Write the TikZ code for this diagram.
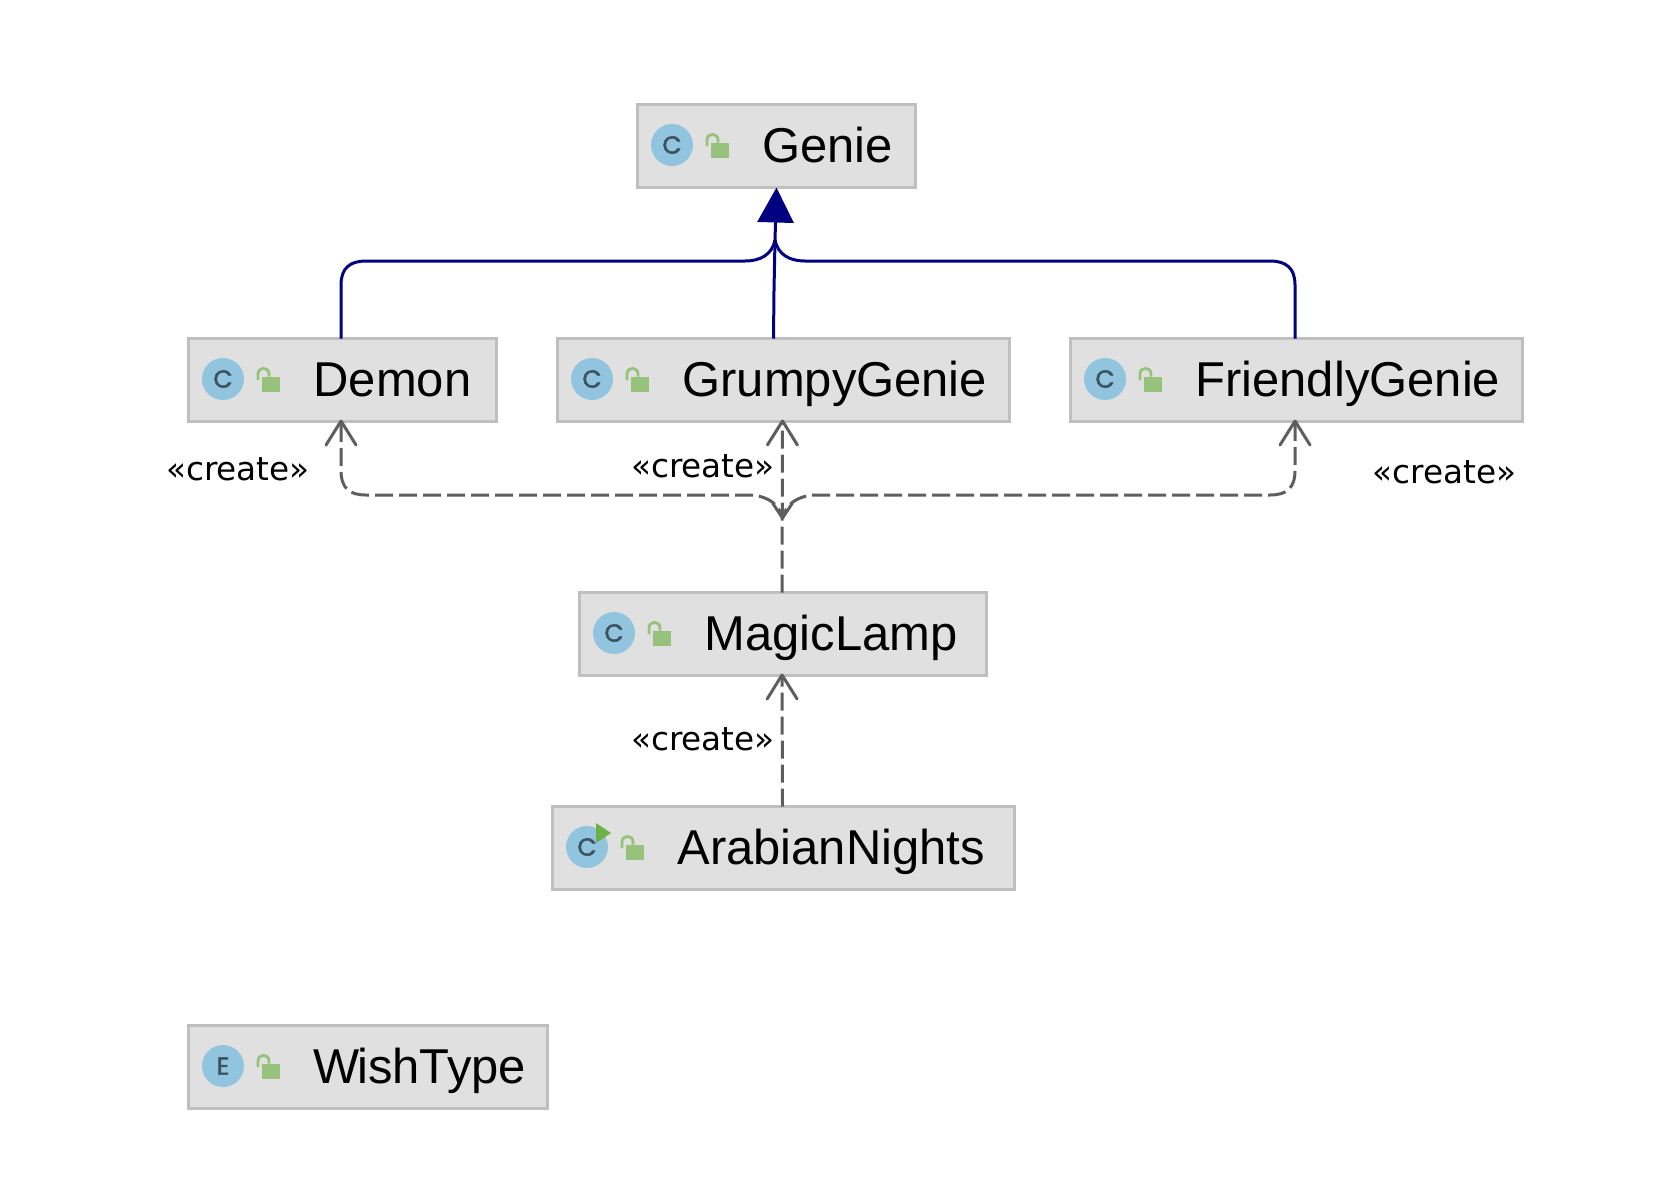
\documentclass[tikz,border=0pt]{standalone}
\usepackage{fontspec}
\usetikzlibrary{arrows.meta}
\setmainfont{Liberation Sans}
\newfontfamily\createfont{DejaVu Sans}
\newfontfamily\iconfont[FakeBold=2]{Poppins}
\definecolor{boxfill}{HTML}{E0E0E0}
\definecolor{boxline}{HTML}{BFBFBF}
\definecolor{iconblue}{HTML}{90C4DF}
\definecolor{iconink}{HTML}{3F5260}
\definecolor{lockgreen}{HTML}{97C27C}
\definecolor{playgreen}{HTML}{6EB043}
\definecolor{navyline}{HTML}{000080}
\definecolor{depgray}{HTML}{5E5E5E}
\tikzset{
  umlbox/.style={draw=boxline,fill=boxfill,line width=2.25pt,inner sep=0pt,outer sep=0pt,
    minimum height=62.25pt,anchor=north west,text=black,
    font=\fontsize{36.7}{40}\selectfont},
  iconletter/.style={text=iconink,inner sep=0pt,font=\iconfont\fontsize{18.5}{20}\selectfont},
  inherit/.style={draw=navyline,line width=2.25pt},
  dep/.style={draw=depgray,line width=2.25pt,dash pattern=on 13.5pt off 4.5pt,line join=round},
  deptip/.style={shorten >=-1.5pt,-{Straight Barb[length=18pt 0 0,width=22.5pt 0 0,round]}},
  createlabel/.style={inner sep=0pt,font=\createfont\fontsize{24.5}{28}\selectfont}
}
% name, x, y, width (px), icon letter, text
\newcommand{\classbox}[6]{%
  \node[umlbox,minimum width=#4*0.75pt] (#1) at (#2,#3)
    {\makebox[\dimexpr #4pt*3/4\relax][l]{\hspace*{93.75pt}\rule[-18.9pt]{0pt}{62.25pt}#6}};
  \begin{scope}[shift={(#2,#3)}]
    \fill[iconblue] (34.5,40.5) circle[radius=21];
    \node[iconletter] (#1icon) at (34.5,40.5) {#5};
    \fill[lockgreen] (73.5,38) rectangle (91.5,53);
    \draw[lockgreen,line width=2.1pt] (69.5,41.5) -- (69.5,35.5) .. controls (69.5,28) and (80.5,28) .. (80.5,35.5) -- (80.5,38);
  \end{scope}}
\begin{document}
\begin{tikzpicture}[x=0.75pt,y=-0.75pt]
\useasboundingbox (0,0) rectangle (1666,1196);
\fill[white] (0,0) rectangle (1666,1196);

\classbox{genie}{637.5}{104.5}{278}{C}{Genie}
\classbox{demon}{188.5}{338.5}{308}{C}{Demon}
\classbox{grumpy}{557.5}{338.5}{452}{C}{GrumpyGenie}
\classbox{friendly}{1070.5}{338.5}{452}{C}{FriendlyGenie}
\classbox{lamp}{579.5}{592.5}{407}{C}{MagicLamp}
\classbox{nights}{552.5}{806.5}{462}{C}{ArabianNights}
\classbox{wish}{188.5}{1025.5}{359}{E}{W\kern-.05em ishT\kern-.05em ype}
\fill[playgreen] (596,823) -- (611,833) -- (596,843) -- cycle;

% inheritance
\coordinate (merge) at (775,240);
\draw[inherit] ([xshift=-1.1pt]demon.north) -- (341,285)
  .. controls (341,268) and (350,261) .. (366,261) -- (745,261)
  .. controls (760,261) and (772,255) .. (merge);
\draw[inherit] ([xshift=-1.1pt]friendly.north) -- (1295,285)
  .. controls (1295,268) and (1286,261) .. (1270,261) -- (805,261)
  .. controls (790,261) and (778,255) .. (merge);
\draw[inherit,-{Triangle[length=26.25pt 0 0,width=27pt 0 0]}] ([xshift=-7.5pt]grumpy.north) -- (774,290) -- (merge) -- (genie.south);

% create dependencies
\coordinate (junction) at (782.5,518);
\draw[dep,deptip] ([xshift=-.75pt]nights.north) -- ([xshift=-.75pt]lamp.south);
\draw[dep,deptip] ([xshift=-.75pt]lamp.north) -- ([xshift=-.75pt]grumpy.south);
\draw[dep,deptip,dash phase=6pt] (junction)
  .. controls (779,505) and (770,497) .. (752,495) -- (366,495)
  .. controls (349,495) and (341,488) .. (341,470) -- ([xshift=-1.1pt]demon.south);
\draw[dep,deptip,dash phase=6pt] (junction)
  .. controls (786,505) and (795,497) .. (813,495) -- (1270,495)
  .. controls (1287,495) and (1295,488) .. (1295,470) -- ([xshift=-1.1pt]friendly.south);
\draw[depgray,line width=2.25pt,line join=round] (772.5,503) -- (junction) -- (792.5,503);

\node[createlabel] (c1) at (238,469) {«create»};
\node[createlabel] (c2) at (703,466) {«create»};
\node[createlabel] (c3) at (1444.5,472) {«create»};
\node[createlabel] (c4) at (703,739.5) {«create»};
\end{tikzpicture}
\end{document}
